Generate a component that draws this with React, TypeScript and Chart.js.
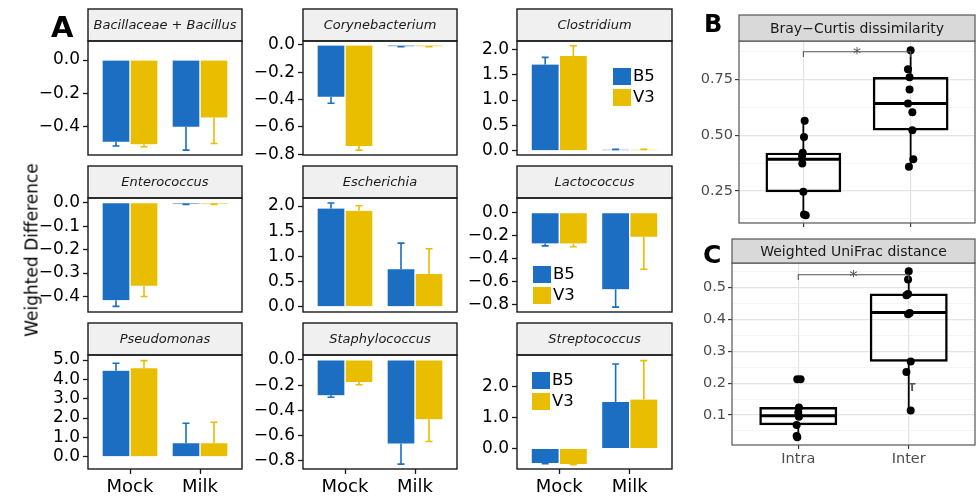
import React, { useEffect, useRef } from 'react';
import { Chart, registerables } from 'chart.js';

Chart.register(...registerables);

const FONT = '"DejaVu Sans", "Liberation Sans", Arial, sans-serif';
Chart.defaults.font.family = FONT;

// ---------------- Panel A data ----------------
const GROUPS = ['Mock', 'Milk'];
const SERIES = ['B5', 'V3'];
const SERIES_COLORS = ['#1b6ec2', '#e9bd00'];
const TAXA = [
  'Bacillaceae + Bacillus', 'Corynebacterium', 'Clostridium',
  'Enterococcus', 'Escherichia', 'Lactococcus',
  'Pseudomonas', 'Staphylococcus', 'Streptococcus',
];
// [Mock, Milk] per taxon
const B5_MEAN = [
  [-0.49, -0.40], [-0.38, -0.01], [1.70, 0.02],
  [-0.416, -0.005], [1.95, 0.743], [-0.269, -0.67],
  [4.45, 0.69], [-0.281, -0.664], [-0.47, 1.50],
];
const B5_ERR = [
  [0.025, 0.14], [0.047, 0.003], [0.14, 0.005],
  [0.026, 0.002], [0.11, 0.52], [0.021, 0.155],
  [0.38, 1.04], [0.016, 0.163], [0.02, 1.22],
];
const V3_MEAN = [
  [-0.505, -0.345], [-0.74, -0.01], [1.87, 0.02],
  [-0.354, -0.005], [1.906, 0.65], [-0.269, -0.21],
  [4.57, 0.69], [-0.176, -0.472], [-0.50, 1.575],
];
const V3_ERR = [
  [0.015, 0.155], [0.03, 0.003], [0.20, 0.005],
  [0.046, 0.002], [0.10, 0.50], [0.029, 0.284],
  [0.40, 1.09], [0.021, 0.176], [0.02, 1.255],
];
const Y_MIN = [-0.569, -0.806, -0.085, -0.466, -0.105, -0.868, -0.636, -0.866, -0.66];
const Y_MAX = [0.114, 0.029, 2.164, 0.020, 2.159, 0.129, 5.26, 0.039, 3.01];
const Y_TICKS = [
  [-0.4, -0.2, 0],
  [-0.8, -0.6, -0.4, -0.2, 0],
  [0, 0.5, 1, 1.5, 2],
  [-0.4, -0.3, -0.2, -0.1, 0],
  [0, 0.5, 1, 1.5, 2],
  [-0.8, -0.6, -0.4, -0.2, 0],
  [0, 1, 2, 3, 4, 5],
  [-0.8, -0.6, -0.4, -0.2, 0],
  [0, 1, 2],
];

// ---------------- Panels B / C data ----------------
const BOX_GROUPS = ['Intra', 'Inter'];

const BRAY_TITLE = 'Bray\u2212Curtis dissimilarity';
const BRAY_INTRA = [0.564, 0.492, 0.421, 0.406, 0.373, 0.246, 0.144, 0.141];
const BRAY_INTRA_JIT = [0.012, 0.006, -0.006, -0.012, -0.01, 0, 0.006, 0.022];
const BRAY_INTER = [0.88, 0.795, 0.759, 0.705, 0.642, 0.602, 0.522, 0.392, 0.358];
const BRAY_INTER_JIT = [0, -0.025, -0.01, -0.01, -0.025, 0.016, 0.016, 0.025, -0.016];
const BRAY_Q1 = [0.245, 0.522];
const BRAY_MED = [0.392, 0.642];
const BRAY_Q3 = [0.42, 0.759];
const BRAY_LO = [0.142, 0.358];
const BRAY_HI = [0.564, 0.88];
const BRAY_TICKS = [0.125, 0.25, 0.375, 0.5, 0.625, 0.75, 0.875];
const BRAY_MAJOR = [0.25, 0.5, 0.75];

const UNI_TITLE = 'Weighted UniFrac distance';
const UNI_INTRA = [0.212, 0.212, 0.124, 0.108, 0.095, 0.069, 0.034, 0.030];
const UNI_INTRA_JIT = [-0.009, 0.021, 0.006, 0, 0.006, -0.015, -0.015, -0.009];
const UNI_INTER = [0.551, 0.525, 0.48, 0.476, 0.42, 0.416, 0.268, 0.235, 0.114];
const UNI_INTER_JIT = [0, -0.006, -0.006, -0.021, 0.009, -0.006, 0.018, -0.021, 0.018];
const UNI_Q1 = [0.069, 0.268];
const UNI_MED = [0.098, 0.422];
const UNI_Q3 = [0.124, 0.48];
const UNI_LO = [0.030, 0.114];
const UNI_HI = [0.124, 0.551];
const UNI_TICKS = [0.05, 0.1, 0.15, 0.2, 0.25, 0.3, 0.35, 0.4, 0.45, 0.5, 0.55];
const UNI_MAJOR = [0.1, 0.2, 0.3, 0.4, 0.5];

// ---------------- layout (positions only) ----------------
const A_PLOT_LEFT = [88, 303, 517];
const A_PLOT_RIGHT = [242, 457, 672];
const A_STRIP_TOP = [9, 166, 323];
const A_PLOT_TOP = [41, 198, 355];
const A_PLOT_BOTTOM = [155, 312, 469];
const LEGEND_AT: Record<number, [number, number]> = { 2: [96, 27], 5: [16, 68], 8: [15, 17] };

function fmtNum(v: number, d: number) {
  return (v < -1e-9 ? '\u2212' : '') + Math.abs(v).toFixed(d);
}

function BarPanel({ idx }: { idx: number }) {
  const ref = useRef<HTMLCanvasElement>(null);
  const row = Math.floor(idx / 3);
  const col = idx % 3;
  const yW = 66;
  const padR = 4;
  const xH = row === 2 ? 36 : 16;
  const left = A_PLOT_LEFT[col] - yW;
  const top = A_STRIP_TOP[row] - 2;
  const plotW = A_PLOT_RIGHT[col] - A_PLOT_LEFT[col];
  const width = yW + plotW + padR;
  const height = A_PLOT_BOTTOM[row] - top + xH;

  useEffect(() => {
    const means = [B5_MEAN[idx], V3_MEAN[idx]];
    const errs = [B5_ERR[idx], V3_ERR[idx]];
    const unit = plotW / 2.2;
    const deco: any = {
      id: 'deco',
      afterDatasetsDraw(chart: any) {
        const ctx = chart.ctx;
        const ys = chart.scales.y;
        chart.data.datasets.forEach((ds: any, di: number) => {
          const meta = chart.getDatasetMeta(di);
          meta.data.forEach((el: any, j: number) => {
            const v = means[di][j];
            const e = errs[di][j];
            const end = v >= 0 ? v + e : v - e;
            const y0 = ys.getPixelForValue(v);
            const y1 = ys.getPixelForValue(end);
            ctx.save();
            ctx.strokeStyle = SERIES_COLORS[di];
            ctx.lineWidth = 1.6;
            ctx.beginPath();
            ctx.moveTo(el.x, y0);
            ctx.lineTo(el.x, y1);
            ctx.moveTo(el.x - 3.5, y1);
            ctx.lineTo(el.x + 3.5, y1);
            ctx.stroke();
            ctx.restore();
          });
        });
      },
      afterDraw(chart: any) {
        const ctx = chart.ctx;
        const a = chart.chartArea;
        ctx.save();
        ctx.fillStyle = '#f0f0f0';
        ctx.fillRect(a.left, 2, a.right - a.left, a.top - 2);
        ctx.strokeStyle = '#1a1a1a';
        ctx.lineWidth = 1.4;
        ctx.strokeRect(a.left, 2, a.right - a.left, a.top - 2);
        ctx.strokeRect(a.left, a.top, a.right - a.left, a.bottom - a.top);
        ctx.fillStyle = '#1a1a1a';
        ctx.font = `oblique 13px ${FONT}`;
        ctx.textAlign = 'center';
        ctx.textBaseline = 'middle';
        ctx.fillText(TAXA[idx], (a.left + a.right) / 2, (2 + a.top) / 2 + 1);
        const lg = LEGEND_AT[idx];
        if (lg) {
          ctx.font = `16.5px ${FONT}`;
          ctx.textAlign = 'left';
          chart.data.datasets.forEach((ds: any, k: number) => {
            const sx = a.left + lg[0];
            const sy = a.top + lg[1] + k * 21;
            ctx.fillStyle = SERIES_COLORS[k];
            ctx.fillRect(sx, sy, 18, 17);
            ctx.fillStyle = '#000';
            ctx.fillText(ds.label, sx + 20, sy + 9);
          });
        }
        ctx.restore();
      },
    };
    const chart = new Chart(ref.current as HTMLCanvasElement, {
      type: 'bar',
      data: {
        datasets: SERIES.map((s, k) => ({
          label: s,
          data: GROUPS.map((g, j) => ({ x: j + 1, y: means[k][j] })),
          backgroundColor: SERIES_COLORS[k],
          borderColor: '#ffffff',
          borderWidth: { left: 1, right: 1, top: 0, bottom: 0 },
          borderSkipped: false,
          barThickness: unit * 0.4,
        })) as any,
      },
      options: {
        responsive: false,
        animation: false,
        events: [],
        layout: { padding: { top: A_PLOT_TOP[row] - top, right: padR, left: 0, bottom: 0 } },
        plugins: { legend: { display: false }, tooltip: { enabled: false } },
        scales: {
          x: {
            type: 'linear',
            min: 0.4,
            max: 2.6,
            offset: false,
            afterBuildTicks: (s: any) => { s.ticks = GROUPS.map((_, j) => ({ value: j + 1 })); },
            afterFit: (s: any) => { s.height = xH; s.paddingLeft = 0; s.paddingRight = 0; },
            grid: { display: row === 2, offset: false, drawOnChartArea: false, tickLength: 5, tickColor: '#1a1a1a', tickWidth: 1.3 },
            border: { display: false },
            ticks: {
              display: row === 2, autoSkip: false, maxRotation: 0, padding: 3, color: '#000',
              font: { size: 18 }, callback: (v: any) => GROUPS[Number(v) - 1],
            },
          },
          y: {
            type: 'linear',
            min: Y_MIN[idx],
            max: Y_MAX[idx],
            afterBuildTicks: (s: any) => { s.ticks = Y_TICKS[idx].map((v) => ({ value: v })); },
            afterFit: (s: any) => { s.width = yW; s.paddingTop = 0; s.paddingBottom = 0; },
            grid: { drawOnChartArea: false, tickLength: 5, tickColor: '#1a1a1a', tickWidth: 1.3 },
            border: { display: false },
            ticks: { autoSkip: false, padding: 3, color: '#000', font: { size: 17 }, callback: (v: any) => fmtNum(Number(v), 1) },
          },
        },
      } as any,
      plugins: [deco],
    });
    return () => chart.destroy();
  }, [idx]);

  return <canvas ref={ref} width={width} height={height} style={{ position: 'absolute', left, top }} />;
}

type BoxCfg = {
  title: string;
  pts: number[][];
  jit: number[][];
  q1: number[]; med: number[]; q3: number[]; lo: number[]; hi: number[];
  ticks: number[]; major: number[]; decimals: number;
  yMin: number; yMax: number;
  bracketY: number; bracketLeg: number;
  note?: { x: number; y: number; text: string };
  showX: boolean;
  plotLeft: number; plotRight: number; stripTop: number; plotTop: number; plotBottom: number;
};

const BRAY_CFG: BoxCfg = {
  title: BRAY_TITLE,
  pts: [BRAY_INTRA, BRAY_INTER],
  jit: [BRAY_INTRA_JIT, BRAY_INTER_JIT],
  q1: BRAY_Q1, med: BRAY_MED, q3: BRAY_Q3, lo: BRAY_LO, hi: BRAY_HI,
  ticks: BRAY_TICKS, major: BRAY_MAJOR, decimals: 2,
  yMin: 0.106, yMax: 0.922,
  bracketY: 0.874, bracketLeg: 0.85,
  showX: false,
  plotLeft: 739, plotRight: 975, stripTop: 15, plotTop: 41, plotBottom: 223,
};

const UNI_CFG: BoxCfg = {
  title: UNI_TITLE,
  pts: [UNI_INTRA, UNI_INTER],
  jit: [UNI_INTRA_JIT, UNI_INTER_JIT],
  q1: UNI_Q1, med: UNI_MED, q3: UNI_Q3, lo: UNI_LO, hi: UNI_HI,
  ticks: UNI_TICKS, major: UNI_MAJOR, decimals: 1,
  yMin: 0.006, yMax: 0.577,
  bracketY: 0.540, bracketLeg: 0.524,
  note: { x: 2.03, y: 0.182, text: 'T' },
  showX: true,
  plotLeft: 732, plotRight: 975, stripTop: 239, plotTop: 263, plotBottom: 445,
};

function BoxPanel({ cfg }: { cfg: BoxCfg }) {
  const ref = useRef<HTMLCanvasElement>(null);
  const yW = 50;
  const padR = 4;
  const xH = cfg.showX ? 34 : 14;
  const left = cfg.plotLeft - yW;
  const top = cfg.stripTop - 2;
  const plotW = cfg.plotRight - cfg.plotLeft;
  const width = yW + plotW + padR;
  const height = cfg.plotBottom - top + xH;

  useEffect(() => {
    const unit = plotW / 2.2;
    const isMajor = (v: number) => cfg.major.some((m) => Math.abs(m - v) < 1e-6);
    const points: { x: number; y: number }[] = [];
    cfg.pts.forEach((arr, g) => arr.forEach((v, i) => points.push({ x: g + 1 + cfg.jit[g][i], y: v })));
    const deco: any = {
      id: 'boxdeco',
      afterDatasetDraw(chart: any, args: any) {
        if (args.index !== 1) return;
        const ctx = chart.ctx;
        const ys = chart.scales.y;
        const meta = chart.getDatasetMeta(1);
        ctx.save();
        ctx.strokeStyle = '#000';
        meta.data.forEach((el: any, g: number) => {
          const x = el.x;
          const w = el.width;
          ctx.lineWidth = 1.8;
          ctx.beginPath();
          ctx.moveTo(x, ys.getPixelForValue(cfg.q3[g]));
          ctx.lineTo(x, ys.getPixelForValue(cfg.hi[g]));
          ctx.moveTo(x, ys.getPixelForValue(cfg.q1[g]));
          ctx.lineTo(x, ys.getPixelForValue(cfg.lo[g]));
          ctx.stroke();
          const ym = ys.getPixelForValue(cfg.med[g]);
          ctx.lineWidth = 3;
          ctx.beginPath();
          ctx.moveTo(x - w / 2 + 1, ym);
          ctx.lineTo(x + w / 2 - 1, ym);
          ctx.stroke();
        });
        ctx.restore();
      },
      afterDraw(chart: any) {
        const ctx = chart.ctx;
        const a = chart.chartArea;
        const xs = chart.scales.x;
        const ys = chart.scales.y;
        ctx.save();
        // significance bracket
        const x1 = xs.getPixelForValue(1);
        const x2 = xs.getPixelForValue(2);
        const yb = ys.getPixelForValue(cfg.bracketY);
        const yl = ys.getPixelForValue(cfg.bracketLeg);
        ctx.strokeStyle = '#555';
        ctx.lineWidth = 1.1;
        ctx.beginPath();
        ctx.moveTo(x1, yl);
        ctx.lineTo(x1, yb);
        ctx.lineTo(x2, yb);
        ctx.lineTo(x2, yl);
        ctx.stroke();
        ctx.fillStyle = '#555';
        ctx.font = `16px ${FONT}`;
        ctx.textAlign = 'center';
        ctx.textBaseline = 'alphabetic';
        ctx.fillText('*', (x1 + x2) / 2, yb + 7);
        if (cfg.note) {
          ctx.font = `bold 10px ${FONT}`;
          ctx.textBaseline = 'middle';
          ctx.fillText(cfg.note.text, xs.getPixelForValue(cfg.note.x), ys.getPixelForValue(cfg.note.y));
        }
        // panel border + strip
        ctx.strokeStyle = '#555';
        ctx.lineWidth = 1.2;
        ctx.strokeRect(a.left, a.top, a.right - a.left, a.bottom - a.top);
        ctx.fillStyle = '#d9d9d9';
        ctx.fillRect(a.left, 2, a.right - a.left, a.top - 2);
        ctx.strokeRect(a.left, 2, a.right - a.left, a.top - 2);
        ctx.fillStyle = '#1a1a1a';
        ctx.font = `14px ${FONT}`;
        ctx.textAlign = 'center';
        ctx.textBaseline = 'middle';
        ctx.fillText(cfg.title, (a.left + a.right) / 2, (2 + a.top) / 2 + 1);
        ctx.restore();
      },
    };
    const chart = new Chart(ref.current as HTMLCanvasElement, {
      type: 'bar',
      data: {
        datasets: [
          {
            type: 'scatter',
            label: 'samples',
            data: points,
            pointRadius: 4,
            pointBackgroundColor: '#000',
            pointBorderWidth: 0,
            backgroundColor: '#000',
            borderColor: '#000',
          },
          {
            type: 'bar',
            label: 'box',
            data: BOX_GROUPS.map((_, g) => ({ x: g + 1, y: [cfg.q1[g], cfg.q3[g]] })),
            backgroundColor: 'rgba(255,255,255,0)',
            borderColor: '#000',
            borderWidth: 1.8,
            borderSkipped: false,
            barThickness: unit * 0.7,
            grouped: false,
          },
        ] as any,
      },
      options: {
        responsive: false,
        animation: false,
        events: [],
        layout: { padding: { top: cfg.plotTop - top, right: padR, left: 0, bottom: 0 } },
        plugins: { legend: { display: false }, tooltip: { enabled: false } },
        scales: {
          x: {
            type: 'linear',
            min: 0.4,
            max: 2.6,
            offset: false,
            afterBuildTicks: (s: any) => { s.ticks = BOX_GROUPS.map((_, j) => ({ value: j + 1 })); },
            afterFit: (s: any) => { s.height = xH; s.paddingLeft = 0; s.paddingRight = 0; },
            grid: { offset: false, color: '#e3e3e3', lineWidth: 1.2, tickLength: 4, tickColor: '#333', tickWidth: 1.1 },
            border: { display: false },
            ticks: {
              display: cfg.showX, autoSkip: false, maxRotation: 0, padding: 2, color: '#4d4d4d',
              font: { size: 14.5 }, callback: (v: any) => BOX_GROUPS[Number(v) - 1],
            },
          },
          y: {
            type: 'linear',
            min: cfg.yMin,
            max: cfg.yMax,
            afterBuildTicks: (s: any) => { s.ticks = cfg.ticks.map((v) => ({ value: v })); },
            afterFit: (s: any) => { s.width = yW; s.paddingTop = 0; s.paddingBottom = 0; },
            grid: {
              color: (c: any) => (isMajor(c.tick?.value) ? '#e3e3e3' : '#f1f1f1'),
              lineWidth: (c: any) => (isMajor(c.tick?.value) ? 1.2 : 0.8),
              tickColor: (c: any) => (isMajor(c.tick?.value) ? '#333' : 'rgba(0,0,0,0)'),
              tickLength: 4,
              tickWidth: 1.1,
            },
            border: { display: false },
            ticks: {
              autoSkip: false, padding: 2, color: '#4d4d4d', font: { size: 14.5 },
              callback: (v: any) => (isMajor(Number(v)) ? Number(v).toFixed(cfg.decimals) : ''),
            },
          },
        },
      } as any,
      plugins: [deco],
    });
    return () => chart.destroy();
  }, [cfg]);

  return <canvas ref={ref} width={width} height={height} style={{ position: 'absolute', left, top }} />;
}

const labelStyle = (left: number, top: number, size: number): React.CSSProperties => ({
  position: 'absolute', left, top, fontFamily: FONT, fontWeight: 'bold', fontSize: size, lineHeight: 1, color: '#000',
});

export default function App() {
  return (
    <div style={{ position: 'absolute', left: 0, top: 0, width: 977, height: 497, overflow: 'hidden', background: '#fff' }}>
      {TAXA.map((_, i) => <BarPanel key={i} idx={i} />)}
      <BoxPanel cfg={BRAY_CFG} />
      <BoxPanel cfg={UNI_CFG} />
      <div
        style={{
          position: 'absolute', left: 31.5, top: 250, transform: 'translate(-50%, -50%) rotate(-90deg)',
          whiteSpace: 'nowrap', fontFamily: FONT, fontSize: 17, lineHeight: 1, color: '#000',
        }}
      >
        Weighted Difference
      </div>
      <div style={labelStyle(51, 12.5, 29)}>A</div>
      <div style={labelStyle(704, 11.5, 24)}>B</div>
      <div style={labelStyle(703, 242, 25)}>C</div>
    </div>
  );
}
